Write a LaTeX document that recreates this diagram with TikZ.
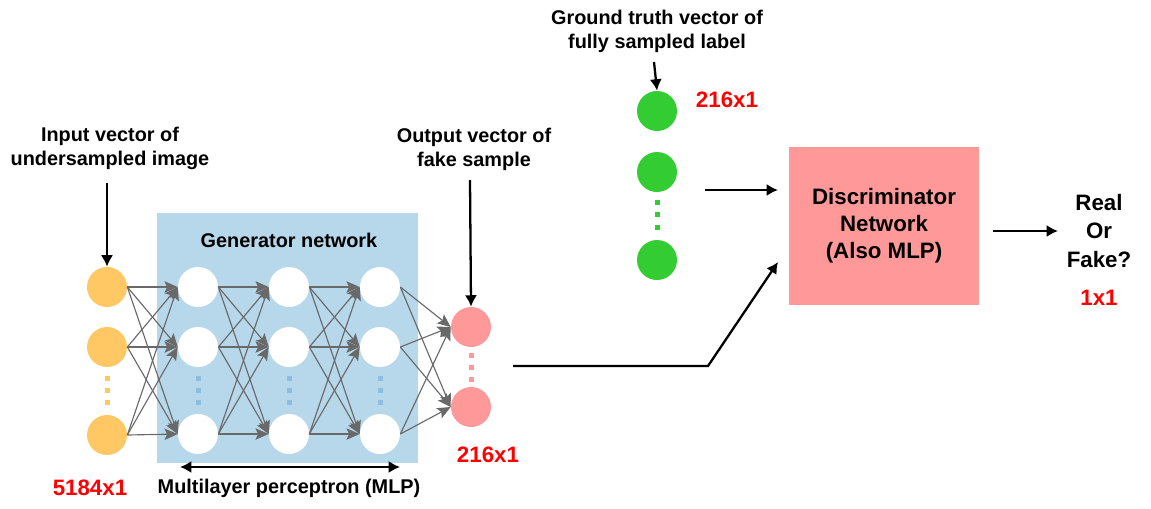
\documentclass[tikz,border=0pt]{standalone}
\usepackage{fontspec}
\setmainfont{Liberation Sans}
\usetikzlibrary{arrows.meta}
\definecolor{genblue}{RGB}{183,215,234}
\definecolor{dotblue}{RGB}{140,190,225}
\definecolor{inorange}{RGB}{255,200,100}
\definecolor{outpink}{RGB}{255,153,153}
\definecolor{gtgreen}{RGB}{51,204,51}
\definecolor{edgegray}{RGB}{105,105,105}
\begin{document}
\begin{tikzpicture}[x=0.02cm,y=-0.02cm,
  lbl/.style={font=\bfseries\fontsize{11.3}{13.6}\selectfont, align=center, inner sep=0pt},
  biglbl/.style={font=\bfseries\fontsize{12.7}{15.4}\selectfont, align=center, inner sep=0pt},
  redlbl/.style={font=\bfseries\fontsize{12.7}{15}\selectfont, text=red, inner sep=0pt},
  neuron/.style={circle, minimum size=0.8cm, inner sep=0pt, draw=none},
  gl/.style={draw=edgegray, line width=0.65pt, -{Stealth[length=7.5pt,width=6.5pt,inset=1.5pt]}},
  arr/.style={draw=black, line width=1.3pt, -{Latex[length=6.5pt,width=7pt]}},
  dblarr/.style={draw=black, line width=1.3pt, {Latex[length=6.5pt,width=7pt]}-{Latex[length=6.5pt,width=7pt]}}
]
\useasboundingbox (0,0) rectangle (1151,508);

% generator box
\node[fill=genblue, minimum width=5.22cm, minimum height=5.02cm, inner sep=0pt] (gen) at (287.5,338) {};
\node[lbl] (genlbl) at (289,240) {Generator network};

% neurons
\foreach \i/\y in {1/287,2/347,3/435} \node[neuron, fill=inorange] (in\i) at (107,\y) {};
\foreach \i/\y in {1/287,2/347,3/434} {
  \node[neuron, fill=white] (ha\i) at (198,\y) {};
  \node[neuron, fill=white] (hb\i) at (289,\y) {};
  \node[neuron, fill=white] (hc\i) at (380,\y) {};
}
\node[neuron, fill=outpink] (out1) at (471,327) {};
\node[neuron, fill=outpink] (out2) at (471,407) {};
\node[neuron, fill=gtgreen] (g1) at (657,111) {};
\node[neuron, fill=gtgreen] (g2) at (657,172) {};
\node[neuron, fill=gtgreen] (g3) at (657,260) {};

% dots
\foreach \y in {378,390,402} {
  \fill[inorange] (104.5,\y-2.5) rectangle +(5,5);
  \fill[dotblue] (195.5,\y-2.5) rectangle +(5,5);
  \fill[dotblue] (286.5,\y-2.5) rectangle +(5,5);
  \fill[dotblue] (377.5,\y-2.5) rectangle +(5,5);
}
\foreach \y in {355,367,379} \fill[outpink] (468.5,\y-2.5) rectangle +(5,5);
\foreach \y in {202,214,227} \fill[gtgreen] (654.5,\y-2.5) rectangle +(5,5);

% connections
\foreach \a in {1,2,3} \foreach \b in {1,2,3} {
  \draw[gl] (in\a.east) -- (ha\b.west);
  \draw[gl] (ha\a.east) -- (hb\b.west);
  \draw[gl] (hb\a.east) -- (hc\b.west);
}
\foreach \a in {1,2,3} \foreach \b in {1,2} \draw[gl] (hc\a.east) -- (out\b.west);

% labels
\node[lbl] (inlbl) at (110,148) {Input vector of\\undersampled image};
\node[lbl] (outlbl) at (474,149) {Output vector of\\fake sample};
\node[lbl] (gtlbl) at (657,31) {Ground truth vector of\\fully sampled label};
\node[lbl] (mlp) at (289,488) {Multilayer perceptron (MLP)};
\node[redlbl] (n5184) at (90,488) {5184x1};
\node[redlbl] (n216a) at (488,455) {216x1};
\node[redlbl] (n216b) at (727,100) {216x1};
\node[redlbl] (n11) at (1099,298) {1x1};

% discriminator
\node[biglbl, fill=outpink, minimum width=3.8cm, minimum height=3.18cm] (disc) at (884,226) {Discriminator\\Network\\(Also MLP)};
\node[biglbl, font=\bfseries\fontsize{12.7}{16}\selectfont] (rof) at (1099,231) {Real\\Or\\Fake?};

% arrows
\coordinate (inTop) at (107,183);
\coordinate (outTop) at (470,180);
\coordinate (gtTop) at (654,62);
\draw[arr] (inTop) -- (in1.north);
\draw[arr] (outTop) -- (out1.north);
\draw[arr] (gtTop) -- (g1.north);

\coordinate (mlpL) at (180,467);
\coordinate (mlpR) at (400,467);
\draw[dblarr] (mlpL) -- (mlpR);

\coordinate (fakeStart) at (513,366);
\coordinate (fakeBend) at (708,366);
\coordinate (fakeEnd) at (778,262);
\draw[arr] (fakeStart) -- (fakeBend) -- (fakeEnd);

\coordinate (gtStart) at (705,190);
\coordinate (gtEnd) at (778,190);
\draw[arr] (gtStart) -- (gtEnd);

\coordinate (discOutS) at (993,231);
\coordinate (discOutE) at (1058,231);
\draw[arr] (discOutS) -- (discOutE);
\end{tikzpicture}
\end{document}
